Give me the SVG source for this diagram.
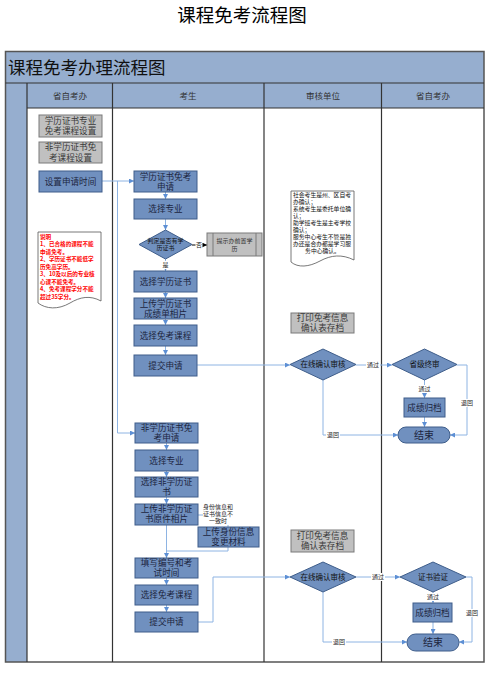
<svg xmlns="http://www.w3.org/2000/svg" width="502" height="677" viewBox="0 0 502 677">
<style>
.t{font-family:"Noto Sans CJK SC","Liberation Sans",sans-serif;text-anchor:middle}
.bx{fill:#7090bf;stroke:#3e5d8a;stroke-width:1}
.gy{fill:#c0c0c0;stroke:#7a7a7a;stroke-width:1}
.bt{font-size:8.6px;fill:#1c2540}
.gt{font-size:8.6px;fill:#3a3a3a}
.dt{font-size:7.5px;fill:#111}
.lbl{font-size:6px;fill:#222}
.lane{fill:none;stroke:#333;stroke-width:1.2}
.band{fill:#96aecf}
.c{fill:none;stroke:#8eb4e3;stroke-width:1}
.lb{fill:#fff}
</style>
<defs>
<marker id="a" viewBox="0 0 6 6" refX="6" refY="3" markerWidth="5" markerHeight="5" markerUnits="userSpaceOnUse" orient="auto"><path d="M0,0 L6,3 L0,6 z" fill="#5d8fd4"/></marker>
<marker id="ak" viewBox="0 0 6 6" refX="6" refY="3" markerWidth="5" markerHeight="5" markerUnits="userSpaceOnUse" orient="auto"><path d="M0,0 L6,3 L0,6 z" fill="#000"/></marker>
</defs>
<rect width="502" height="677" fill="#fff"/>
<text class="t" x="242" y="22" font-size="18.5" fill="#000">课程免考流程图</text>

<g id="frame">
<rect class="band" x="5.5" y="51.5" width="478.5" height="31.5"/>
<rect class="band" x="5.5" y="83" width="21.5" height="579"/>
<rect class="band" x="27" y="83" width="457" height="25"/>
<rect x="5.5" y="51.5" width="478.5" height="610.5" fill="none" stroke="#555" stroke-width="1.5"/>
<line class="lane" x1="5.5" y1="83" x2="484" y2="83"/>
<line class="lane" x1="27" y1="108" x2="484" y2="108"/>
<line class="lane" x1="27" y1="83" x2="27" y2="662"/>
<line class="lane" x1="112.5" y1="83" x2="112.5" y2="662"/>
<line class="lane" x1="264" y1="83" x2="264" y2="662"/>
<line class="lane" x1="381.5" y1="83" x2="381.5" y2="662"/>
<text x="8" y="74" font-family="Noto Sans CJK SC, sans-serif" font-size="17.5" fill="#111">课程免考办理流程图</text>
<text class="t" x="70" y="99" font-size="8.5" fill="#333">省自考办</text>
<text class="t" x="188" y="99" font-size="8.5" fill="#333">考生</text>
<text class="t" x="323" y="99" font-size="8.5" fill="#333">审核单位</text>
<text class="t" x="433" y="99" font-size="8.5" fill="#333">省自考办</text>
</g>

<g id="connectors">
<path class="c" d="M102,181 H134" marker-end="url(#a)"/>
<path class="c" d="M117.5,181 V433 H135" marker-end="url(#a)"/>
<path class="c" d="M165.5,192 V199" marker-end="url(#a)"/>
<path class="c" d="M165.5,219 V230" marker-end="url(#a)"/>
<path d="M192,245 H207" stroke="#000" stroke-width="1" fill="none" marker-end="url(#ak)"/>
<rect class="lb" x="195.5" y="240.5" width="7" height="8"/>
<text class="t lbl" x="199" y="247">否</text>
<path class="c" d="M165.5,259 V271" marker-end="url(#a)"/>
<rect class="lb" x="162" y="261" width="7" height="8"/>
<text class="t lbl" x="165.5" y="267">是</text>
<path class="c" d="M165.5,292 V298" marker-end="url(#a)"/>
<path class="c" d="M165.5,319 V325" marker-end="url(#a)"/>
<path class="c" d="M165.5,346 V355" marker-end="url(#a)"/>
<path class="c" d="M197,365 H290" marker-end="url(#a)"/>
<path class="c" d="M356,365 H392" marker-end="url(#a)"/>
<rect class="lb" x="366" y="361" width="14" height="8"/>
<text class="t lbl" x="373" y="367">通过</text>
<path class="c" d="M424.5,380 V398" marker-end="url(#a)"/>
<rect class="lb" x="417.5" y="385" width="14" height="8"/>
<text class="t lbl" x="424.5" y="391">通过</text>
<path class="c" d="M424.5,417 V427" marker-end="url(#a)"/>
<path class="c" d="M323,380 V435 H398" marker-end="url(#a)"/>
<rect class="lb" x="326" y="431" width="14" height="8"/>
<text class="t lbl" x="333" y="437">退回</text>
<path class="c" d="M457,365 H467 V435 H450" marker-end="url(#a)"/>
<rect class="lb" x="460" y="399" width="14" height="8"/>
<text class="t lbl" x="467" y="405">退回</text>

<path class="c" d="M166.5,443 V450" marker-end="url(#a)"/>
<path class="c" d="M166.5,471 V477" marker-end="url(#a)"/>
<path class="c" d="M166.5,497 V504" marker-end="url(#a)"/>
<path class="c" d="M198,515 H228 V527"/>
<rect class="lb" x="203" y="502" width="30" height="23"/>
<text class="t lbl" x="218" y="508.5">身份信息和</text>
<text class="t lbl" x="218" y="515.5">证书信息不</text>
<text class="t lbl" x="218" y="522.5">一致时</text>
<path class="c" d="M166.5,525 V558" marker-end="url(#a)"/>
<path class="c" d="M228,547 V551 H166.5"/>
<path class="c" d="M166.5,578 V585" marker-end="url(#a)"/>
<path class="c" d="M166.5,605 V612" marker-end="url(#a)"/>
<path class="c" d="M198,622 H213 V577 H290" marker-end="url(#a)"/>
<path class="c" d="M356,577 H400" marker-end="url(#a)"/>
<rect class="lb" x="371" y="573" width="14" height="8"/>
<text class="t lbl" x="378" y="579">通过</text>
<path class="c" d="M433,592 V603" marker-end="url(#a)"/>
<rect class="lb" x="426" y="593" width="14" height="8"/>
<text class="t lbl" x="433" y="599">通过</text>
<path class="c" d="M433,622 V634" marker-end="url(#a)"/>
<path class="c" d="M323,592 V642 H407" marker-end="url(#a)"/>
<rect class="lb" x="332" y="638" width="14" height="8"/>
<text class="t lbl" x="339" y="644">退回</text>
<path class="c" d="M466,577 H472 V642 H459" marker-end="url(#a)"/>
<rect class="lb" x="465" y="609" width="14" height="8"/>
<text class="t lbl" x="472" y="615">退回</text>
</g>

<g id="n_zyset"><rect class="gy" x="39" y="115" width="63" height="22"/><text class="t gt" x="70.5" y="123.5">学历证书专业</text><text class="t gt" x="70.5" y="134">免考课程设置</text></g>
<g id="n_fxlset"><rect class="gy" x="39" y="142" width="63" height="21"/><text class="t gt" x="70.5" y="150">非学历证书免</text><text class="t gt" x="70.5" y="160.5">考课程设置</text></g>
<g id="n_time"><rect class="bx" x="39" y="171" width="63" height="21"/><text class="t bt" x="70.5" y="184.5">设置申请时间</text></g>
<g id="n_note1">
<path d="M38,232 H101 V301 C90,295 80,297 70,303 C58,310 46,309 38,303 Z" fill="#fff" stroke="#555" stroke-width="0.8"/>
<g font-family="Noto Sans CJK SC, sans-serif" font-size="5.6" font-weight="bold" fill="#ff0000">
<text x="40" y="238.5">说明</text>
<text x="40" y="246">1、已合格的课程不能</text>
<text x="40" y="253.5">申请免考。</text>
<text x="40" y="261">2、学历证书不能低学</text>
<text x="40" y="268.5">历免高学历。</text>
<text x="40" y="276">3、10及以后的专业核</text>
<text x="40" y="283.5">心课不能免考。</text>
<text x="40" y="291">4、免考课程学分不能</text>
<text x="40" y="298.5">超过35学分。</text>
</g>
</g>

<g id="n_xlapply"><rect class="bx" x="134" y="171" width="63" height="21"/><text class="t bt" x="165.5" y="179.5">学历证书免考</text><text class="t bt" x="165.5" y="189.5">申请</text></g>
<g id="n_zy1"><rect class="bx" x="134" y="199" width="63" height="20"/><text class="t bt" x="165.5" y="212">选择专业</text></g>
<g id="n_judge"><path d="M165.5,230 L192,244.5 L165.5,259 L139,244.5 Z" class="bx"/><text class="t" font-size="6" fill="#111" x="165.5" y="243">判定是否有学</text><text class="t" font-size="6" fill="#111" x="165.5" y="250">历证书</text></g>
<g id="n_prompt"><rect class="gy" x="207" y="233" width="55" height="23"/><line x1="213" y1="233" x2="213" y2="256" stroke="#7a7a7a"/><line x1="256" y1="233" x2="256" y2="256" stroke="#7a7a7a"/><text class="t" font-size="6" fill="#333" x="234.5" y="243">提示办前置学</text><text class="t" font-size="6" fill="#333" x="234.5" y="251">历</text></g>
<g id="n_xlzs"><rect class="bx" x="134" y="271" width="63" height="21"/><text class="t bt" x="165.5" y="284.5">选择学历证书</text></g>
<g id="n_upxl"><rect class="bx" x="134" y="298" width="63" height="21"/><text class="t bt" x="165.5" y="306.5">上传学历证书</text><text class="t bt" x="165.5" y="316.5">成绩单相片</text></g>
<g id="n_kc1"><rect class="bx" x="134" y="325" width="63" height="21"/><text class="t bt" x="165.5" y="338.5">选择免考课程</text></g>
<g id="n_sub1"><rect class="bx" x="134" y="355" width="63" height="21"/><text class="t bt" x="165.5" y="368.5">提交申请</text></g>

<g id="n_fxlapply"><rect class="bx" x="135" y="423" width="63" height="20"/><text class="t bt" x="166.5" y="431">非学历证书免</text><text class="t bt" x="166.5" y="441">考申请</text></g>
<g id="n_zy2"><rect class="bx" x="135" y="450" width="63" height="21"/><text class="t bt" x="166.5" y="463.5">选择专业</text></g>
<g id="n_fxlzs"><rect class="bx" x="135" y="477" width="63" height="20"/><text class="t bt" x="166.5" y="485">选择非学历证</text><text class="t bt" x="166.5" y="495">书</text></g>
<g id="n_upfxl"><rect class="bx" x="135" y="504" width="63" height="21"/><text class="t bt" x="166.5" y="512">上传非学历证</text><text class="t bt" x="166.5" y="522">书原件相片</text></g>
<g id="n_upid"><rect class="bx" x="198" y="527" width="61" height="20"/><text class="t bt" x="228.5" y="535">上传身份信息</text><text class="t bt" x="228.5" y="545">变更材料</text></g>
<g id="n_fill"><rect class="bx" x="135" y="558" width="63" height="20"/><text class="t bt" x="166.5" y="566">填写编号和考</text><text class="t bt" x="166.5" y="576">试时间</text></g>
<g id="n_kc2"><rect class="bx" x="135" y="585" width="63" height="20"/><text class="t bt" x="166.5" y="598">选择免考课程</text></g>
<g id="n_sub2"><rect class="bx" x="135" y="612" width="63" height="20"/><text class="t bt" x="166.5" y="625">提交申请</text></g>

<g id="n_note2">
<path d="M291,191 H354 V260 C342,254 331,255 320,261 C309,267 298,268 291,262 Z" fill="#fff" stroke="#555" stroke-width="0.8"/>
<g font-family="Noto Sans CJK SC, sans-serif" font-size="5.8" fill="#111">
<text x="293" y="197">社会考生是州、区自考</text>
<text x="293" y="204">办确认；</text>
<text x="293" y="211">系统考生是委托单位确</text>
<text x="293" y="218">认；</text>
<text x="293" y="225">助学班考生是主考学校</text>
<text x="293" y="232">确认；</text>
<text x="293" y="239">服务中心考生不管是独</text>
<text x="293" y="246">办还是合办都是学习服</text>
<text x="322.5" y="253" text-anchor="middle">务中心确认。</text>
</g>
</g>
<g id="n_print1"><rect class="gy" x="291" y="313" width="63" height="20"/><text class="t gt" x="322.5" y="321">打印免考信息</text><text class="t gt" x="322.5" y="331">确认表存档</text></g>
<g id="n_check1"><path d="M323,349 L356,364.5 L323,380 L290,364.5 Z" class="bx"/><text class="t dt" x="323" y="367">在线确认审核</text></g>
<g id="n_final"><path d="M424.5,349 L457,364.5 L424.5,380 L392,364.5 Z" class="bx"/><text class="t dt" x="424.5" y="367">省级终审</text></g>
<g id="n_arch1"><rect class="bx" x="404" y="398" width="41" height="19"/><text class="t bt" x="424.5" y="410.5">成绩归档</text></g>
<g id="n_end1"><rect class="bx" x="398" y="427" width="52" height="16" rx="8"/><text class="t" font-size="10" fill="#1c2540" x="424" y="438.5">结束</text></g>

<g id="n_print2"><rect class="gy" x="291" y="530" width="63" height="22"/><text class="t gt" x="322.5" y="539">打印免考信息</text><text class="t gt" x="322.5" y="549">确认表存档</text></g>
<g id="n_check2"><path d="M323,562 L356,577 L323,592 L290,577 Z" class="bx"/><text class="t dt" x="323" y="579.5">在线确认审核</text></g>
<g id="n_verify"><path d="M433,562 L466,577 L433,592 L400,577 Z" class="bx"/><text class="t dt" x="433" y="579.5">证书验证</text></g>
<g id="n_arch2"><rect class="bx" x="413" y="603" width="39" height="19"/><text class="t bt" x="432.5" y="615.5">成绩归档</text></g>
<g id="n_end2"><rect class="bx" x="407" y="634" width="52" height="17" rx="8.5"/><text class="t" font-size="10" fill="#1c2540" x="433" y="646">结束</text></g>
</svg>
